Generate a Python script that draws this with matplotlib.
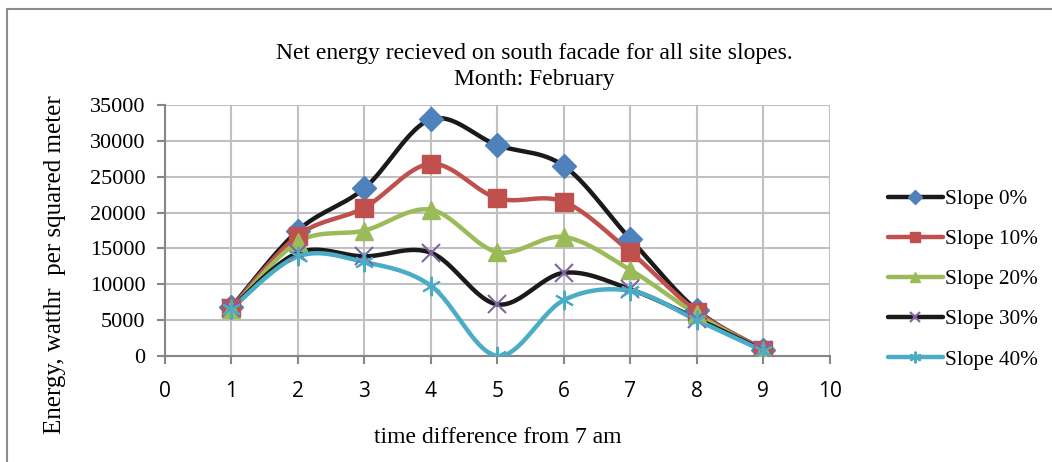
import numpy as np
import matplotlib.pyplot as plt
from matplotlib.patches import Rectangle

hours = [1, 2, 3, 4, 5, 6, 7, 8, 9]
slope_0 = [6800, 17500, 23400, 33000, 29400, 26500, 16300, 6400, 900]
slope_10 = [6700, 16800, 20700, 26800, 22000, 21500, 14500, 6200, 900]
slope_20 = [6500, 15900, 17500, 20400, 14500, 16600, 12000, 5800, 700]
slope_30 = [6700, 14400, 13900, 14400, 7200, 11600, 9300, 5200, 800]
slope_40 = [6600, 13900, 13100, 9800, 0, 7800, 9100, 5000, 700]
labels = ["Slope 0%", "Slope 10%", "Slope 20%", "Slope 30%", "Slope 40%"]


def smooth(x, y, n=30):
    # Excel-style smoothed line: cubic Bezier with Catmull-Rom control points
    p = np.column_stack([x, y]).astype(float)
    p = np.vstack([p[0], p, p[-1]])
    out = []
    for i in range(1, len(p) - 2):
        p0, p1, p2, p3 = p[i - 1], p[i], p[i + 1], p[i + 2]
        c1 = p1 + (p2 - p0) / 6
        c2 = p2 - (p3 - p1) / 6
        t = np.linspace(0, 1, n)[:, None]
        seg = ((1 - t) ** 3) * p1 + 3 * ((1 - t) ** 2) * t * c1 + 3 * (1 - t) * t ** 2 * c2 + t ** 3 * p2
        out.append(seg if i == 1 else seg[1:])
    out = np.vstack(out)
    return out[:, 0], out[:, 1]


serif = "Liberation Serif"
fig = plt.figure(figsize=(10.52, 4.62), dpi=100)
ax = fig.add_axes([0.1568, 0.2294, 0.632, 0.5433])

styles = [
    ("#1a1a1a", "D", "#4F81BD", 12, None),
    ("#C0504D", "s", "#C0504D", 13, None),
    ("#9BBB59", "^", "#9BBB59", 13, None),
    ("#1a1a1a", "x", "#8064A2", 13, 1.5),
    ("#4BACC6", (6, 2, 0), "#4BACC6", 14, 1.5),
]
series = [slope_0, slope_10, slope_20, slope_30, slope_40]

for vals, lab, (lc, mk, mc, ms, mew) in zip(series, labels, styles):
    sx, sy = smooth(hours, vals)
    ax.plot(sx, sy, color=lc, lw=3.2, solid_capstyle="round", zorder=3)
    ax.plot(hours, vals, ls="none", marker=mk, ms=ms, color=mc,
            mec=mc, mew=mew if mew else 1, zorder=4)
    ax.plot([], [], color=lc, lw=3.2, marker=mk, ms=ms * 0.6, mfc=mc,
            mec=mc, mew=mew if mew else 1, solid_capstyle="round", label=lab)

ax.set_xlim(0, 10)
ax.set_ylim(0, 35000)
ax.set_xticks(range(0, 11))
ax.set_yticks(range(0, 35001, 5000))
ax.grid(True, color="#c0c0c0", lw=1.5)
ax.set_axisbelow(True)
for s in ["top", "right"]:
    ax.spines[s].set_visible(False)
for s in ["left", "bottom"]:
    ax.spines[s].set_color("#868686")
    ax.spines[s].set_linewidth(1.5)
ax.tick_params(axis="both", direction="out", length=6, width=1.5, color="#868686")
for t in ax.get_xticklabels():
    t.set_fontfamily("Open Sans")
    t.set_fontsize(15)
for t in ax.get_yticklabels():
    t.set_fontfamily(serif)
    t.set_fontsize(16)
ax.tick_params(axis="x", pad=12)
ax.tick_params(axis="y", pad=8)

ax.set_xlabel("time difference from 7 am", family=serif, fontsize=17, labelpad=18)
fig.text(55 / 1052, 1 - 265 / 462, "Energy, watthr  per squared meter", rotation=90,
         ha="center", va="center", family=serif, fontsize=18)
fig.text(0.508, 0.856, "Net energy recieved on south facade for all site slopes.\nMonth: February",
         ha="center", va="center", family=serif, fontsize=17, linespacing=1.35)

ax.legend(loc="center left", bbox_to_anchor=(1.058, 0.305), frameon=False,
          prop={"family": serif, "size": 15.3}, handlelength=2.6, handletextpad=0.1,
          labelspacing=0.95, numpoints=1)

fig.patches.append(Rectangle((7 / 1052, -0.1), 1.2, 1.1 - 9 / 462, transform=fig.transFigure,
                             fill=False, edgecolor="#8c8c8c", lw=1.5))

fig.savefig("out.png", dpi=100)
